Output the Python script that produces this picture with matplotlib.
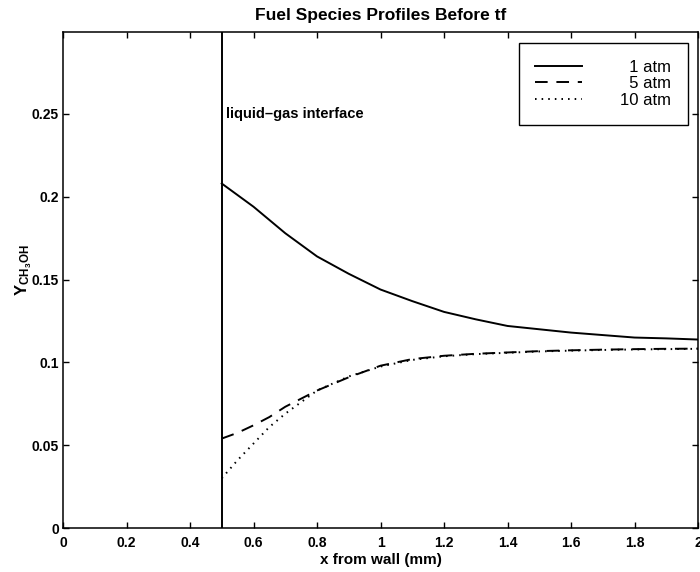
import matplotlib
matplotlib.use("Agg")
import matplotlib.pyplot as plt

plt.rcParams['font.family'] = ['Liberation Sans', 'DejaVu Sans']

x = [0.5, 0.55, 0.6, 0.65, 0.7, 0.8, 0.9, 1.0, 1.1, 1.2, 1.3, 1.4, 1.5, 1.6, 1.7, 1.8, 1.9, 2.0]
y_1atm = [0.208, 0.201, 0.194, 0.186, 0.178, 0.164, 0.1535, 0.144, 0.137, 0.1305, 0.126, 0.122,
          0.120, 0.118, 0.1165, 0.115, 0.1145, 0.1138]
y_5atm = [0.054, 0.0575, 0.062, 0.067, 0.0732, 0.083, 0.091, 0.098, 0.102, 0.104, 0.1052, 0.106,
          0.1068, 0.1073, 0.1077, 0.108, 0.1082, 0.1083]
y_10atm = [0.030, 0.041, 0.051, 0.061, 0.069, 0.083, 0.0915, 0.0975, 0.1015, 0.1037, 0.105, 0.1058,
           0.1066, 0.1071, 0.1075, 0.1078, 0.108, 0.1082]
labels = ['  1 atm', '  5 atm', '10 atm']
interface_x = 0.5
xticks = [0, 0.2, 0.4, 0.6, 0.8, 1, 1.2, 1.4, 1.6, 1.8, 2]
xticklabels = ['0', '0.2', '0.4', '0.6', '0.8', '1', '1.2', '1.4', '1.6', '1.8', '2']
yticks = [0, 0.05, 0.1, 0.15, 0.2, 0.25]
yticklabels = ['0', '0.05', '0.1', '0.15', '0.2', '0.25']

W, H = 700, 572
fig = plt.figure(figsize=(7.0, 5.72), dpi=100)
left, right, top, bottom = 63, 698, 32, 528
ax = fig.add_axes([left / W, 1 - bottom / H, (right - left) / W, (bottom - top) / H])

ax.plot(x, y_1atm, color='black', lw=1.4, linestyle='-', label=labels[0])
ax.plot(x, y_5atm, color='black', lw=1.4, linestyle=(0, (6.5, 4.5)), label=labels[1])
ax.plot(x, y_10atm, color='black', lw=1.4, linestyle=(0, (0.8, 2.6)), label=labels[2])
ax.axvline(interface_x, color='black', lw=1.4)
ax.text(interface_x + 0.012, 0.25, 'liquid\u2013gas interface', fontsize=10.5, fontweight='bold',
        va='center', ha='left')

ax.set_xlim(0, 2)
ax.set_ylim(0, 0.2995)
ax.set_xticks(xticks)
ax.set_xticklabels(xticklabels)
ax.set_yticks(yticks)
ax.set_yticklabels(yticklabels)
ax.tick_params(direction='in', top=True, right=True, length=4, width=1.0,
               labelsize=10, pad=3)
ax.tick_params(axis='x', pad=6)
for lab in ax.get_xticklabels() + ax.get_yticklabels():
    lab.set_fontweight('bold')
for s in ax.spines.values():
    s.set_linewidth(1.1)

ax.set_title('Fuel Species Profiles Before tf', fontsize=12.5, fontweight='bold', pad=9)
ax.set_xlabel('x from wall (mm)', fontsize=11, fontweight='bold', labelpad=2)
ax.set_ylabel(r'$\mathregular{Y_{CH_3OH}}$', fontsize=12, fontweight='bold')
ax.yaxis.set_label_coords(-0.046, 0.52)

leg = ax.legend(loc='upper right', bbox_to_anchor=(0.984, 0.978), borderaxespad=0,
                fontsize=12, handlelength=2.8, handletextpad=2.3, labelspacing=0.1,
                borderpad=1.0, fancybox=False, edgecolor='black', framealpha=1)
leg.get_frame().set_linewidth(1.0)

fig.savefig('out.png', dpi=100)
